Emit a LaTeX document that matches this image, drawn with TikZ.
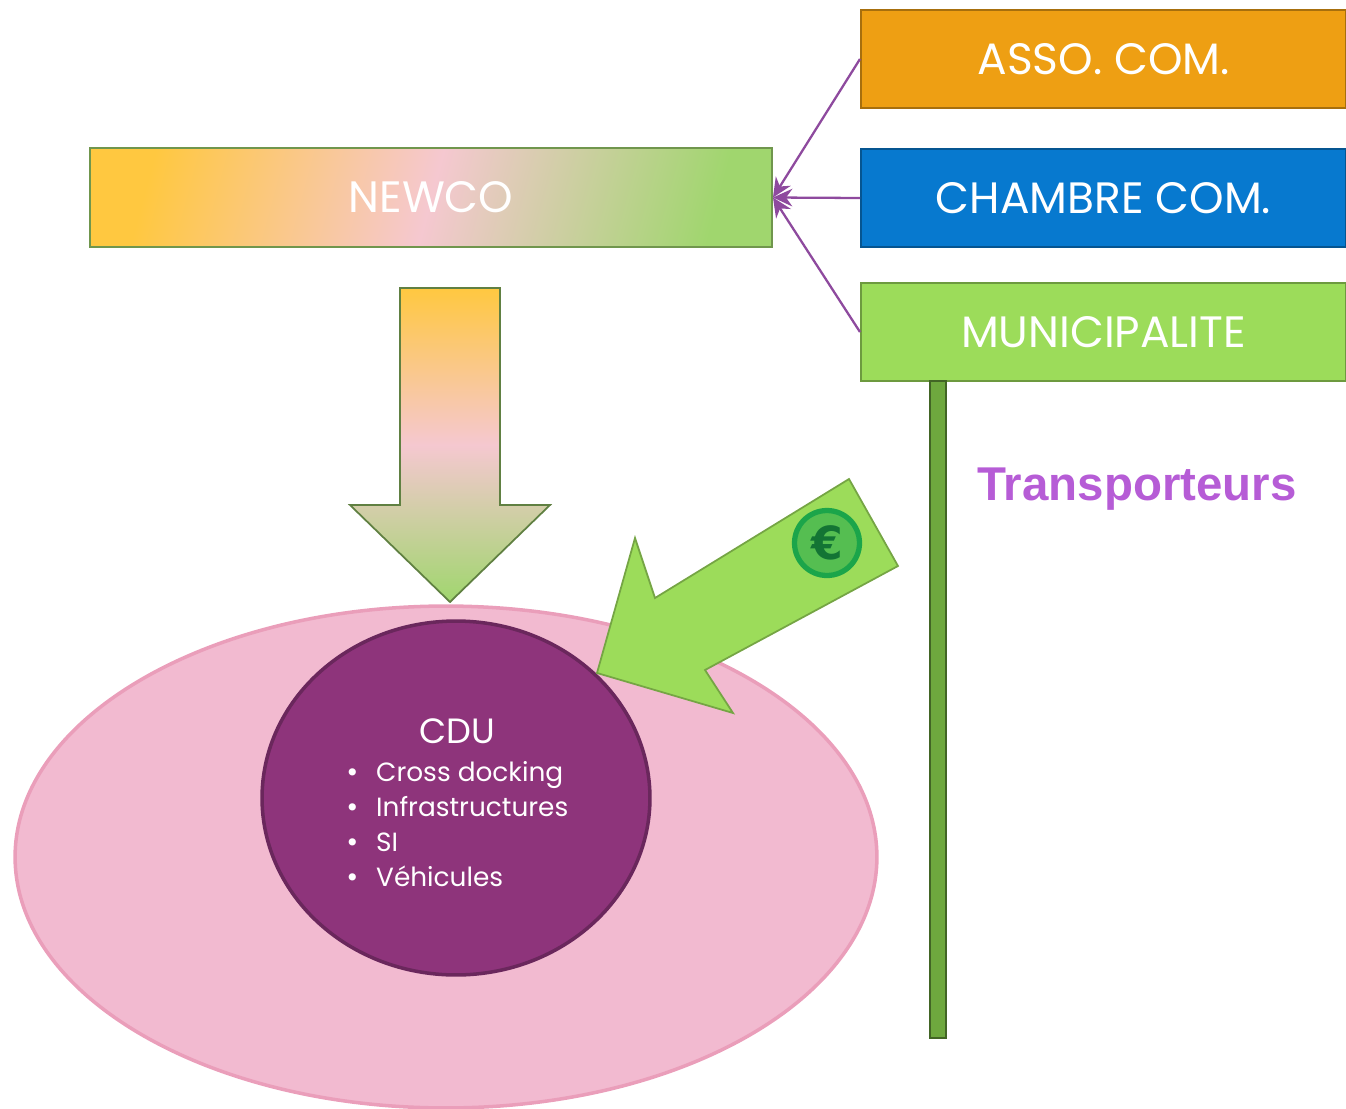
\documentclass[tikz,border=0pt]{standalone}
\usepackage{fontspec}
\setmainfont{Poppins}
\newfontfamily\boldfont{Liberation Sans}
\newfontfamily\symfont{DejaVu Sans}
\usetikzlibrary{arrows.meta}
\definecolor{assoorange}{RGB}{238,159,19}
\definecolor{chambreblue}{RGB}{7,121,207}
\definecolor{munigreen}{RGB}{156,220,90}
\definecolor{newcoyellow}{RGB}{255,200,64}
\definecolor{newcopink}{RGB}{245,200,208}
\definecolor{newcogreen}{RGB}{160,214,110}
\definecolor{linkpurple}{RGB}{142,74,158}
\definecolor{zonepink}{RGB}{242,186,208}
\definecolor{cdupurple}{RGB}{142,52,123}
\definecolor{postgreen}{RGB}{110,168,62}
\definecolor{transpurple}{RGB}{182,92,214}
\definecolor{eurogreen}{RGB}{27,165,74}
\newcommand\cduitem{\makebox[0.62cm][l]{\symfont\fontsize{14}{20}\selectfont •}}

\begin{document}
\begin{tikzpicture}[x=0.02cm, y=-0.02cm,
  box/.style={draw=#1!70!black, fill=#1, line width=1.2pt, minimum width=9.7cm,
    minimum height=1.96cm, text=white, font=\fontsize{25}{29}\selectfont},
  link/.style={-{Stealth[length=11pt,width=10pt]}, draw=linkpurple, line width=1.3pt}]
\useasboundingbox (0,0) rectangle (1346,1109);
% partners and newco
\node[box=assoorange] (asso) at (1103.5,59) {ASSO. COM.};
\node[box=chambreblue] (chambre) at (1103.5,198) {CHAMBRE COM.};
\node[box=munigreen] (muni) at (1103.5,332) {MUNICIPALITE};
\node[draw=newcogreen!70!black, line width=1.2pt, left color=newcoyellow, right color=newcogreen,
  middle color=newcopink, shading angle=75, minimum width=13.64cm, minimum height=1.98cm,
  text=white, font=\fontsize{25}{29}\selectfont] (newco) at (431,197.5) {NEWCO};
\draw[link] (asso.west) -- (newco.east);
\draw[link] (chambre.west) -- (newco.east);
\draw[link] (muni.west) -- (newco.east);
% transporteurs
\fill[postgreen, draw=postgreen!60!black, line width=0.8pt] (930,381) rectangle (946,1038);
\node[text=transpurple, font=\boldfont\bfseries\fontsize{27}{30}\selectfont] (transp) at (1137,489) {Transporteurs};
% zone and CDU
\draw[fill=zonepink, draw=zonepink!85!purple, line width=2pt] (446,857) ellipse [x radius=8.62cm, y radius=5.02cm];
\draw[fill=cdupurple, draw=cdupurple!75!black, line width=2pt] (456,798) ellipse [x radius=3.88cm, y radius=3.54cm];
\node[text=white, font=\fontsize{20}{24}\selectfont] (cdu) at (457,731) {CDU};
\node[anchor=west, align=left, text=white, font=\fontsize{15}{20}\selectfont] (items) at (339,824)
  {\cduitem Cross docking\\ \cduitem Infrastructures\\ \cduitem SI\\ \cduitem Véhicules};
% arrows
\draw[top color=newcoyellow, bottom color=newcogreen, middle color=newcopink, draw=newcogreen!60!black, line width=1pt]
  (400,288) -- (500,288) -- (500,505) -- (550,505) -- (450,602) -- (350,505) -- (400,505) -- cycle;
\draw[fill=munigreen, draw=munigreen!75!black, line width=1pt]
  (849,479) -- (898,566) -- (705,670) -- (733,713) -- (597,673) -- (635,538) -- (655,598) -- cycle;
\node[circle, draw=eurogreen, line width=3pt, fill=eurogreen!55!munigreen, text=eurogreen!70!black,
  minimum size=1.3cm, inner sep=0pt, font=\symfont\bfseries\fontsize{26}{26}\selectfont] (euro) at (827,543) {€};
\end{tikzpicture}
\end{document}
